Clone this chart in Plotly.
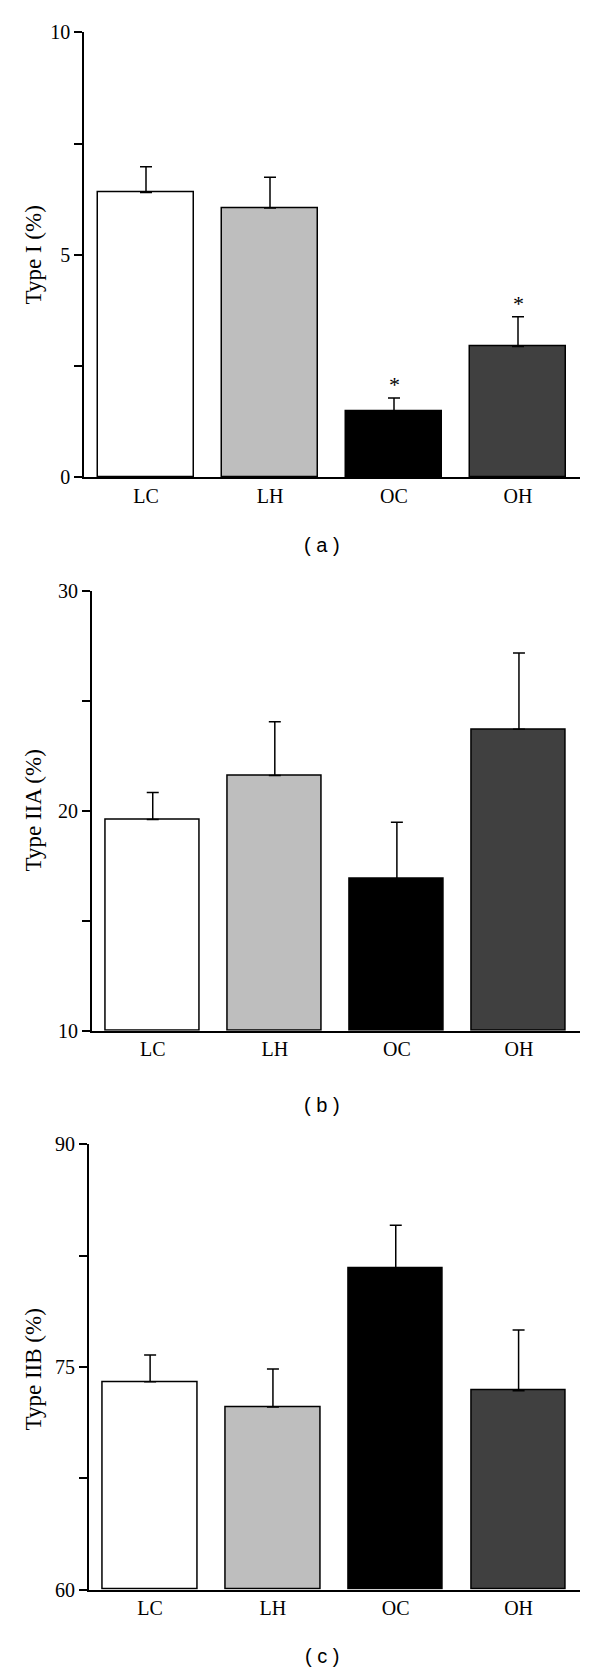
import plotly.graph_objects as go

categories = ["LC", "LH", "OC", "OH"]
bar_colors = ["#ffffff", "#bebebe", "#000000", "#404040"]

type1_mean = [6.40, 6.05, 1.48, 2.94]
type1_err = [0.58, 0.69, 0.30, 0.67]
type1_sig = ["", "", "*", "*"]

type2a_mean = [19.6, 21.6, 16.9, 23.7]
type2a_err = [1.23, 2.44, 2.58, 3.47]

type2b_mean = [74.0, 72.3, 81.65, 73.4]
type2b_err = [1.8, 2.56, 2.9, 4.1]

panels = [
    dict(mean=type1_mean, err=type1_err, sig=type1_sig, title="Type I (%)",
         rng=[0, 10], tickvals=[0, 2.5, 5, 7.5, 10], ticktext=["0", "", "5", "", "10"],
         caption="( a )", px=(84, 580), py=(32.3, 477.3), cap_y=544.5, title_y=255),
    dict(mean=type2a_mean, err=type2a_err, sig=None, title="Type IIA (%)",
         rng=[10, 30], tickvals=[10, 15, 20, 25, 30], ticktext=["10", "", "20", "", "30"],
         caption="( b )", px=(91.7, 580), py=(590.7, 1030.7), cap_y=1104.5, title_y=811),
    dict(mean=type2b_mean, err=type2b_err, sig=None, title="Type IIB (%)",
         rng=[60, 90], tickvals=[60, 67.5, 75, 82.5, 90], ticktext=["60", "", "75", "", "90"],
         caption="( c )", px=(88.7, 580), py=(1144.3, 1589.7), cap_y=1656, title_y=1370),
]

# page body has an 8px margin; the figure is sized so it ends at the window's edges
OFF = 8
W, H = 600 - OFF, 1672 - OFF


def fx(x):
    return (x - OFF) / W


def fy(y):
    return 1 - (y - OFF) / H


fig = go.Figure()
serif = "Liberation Serif, Times New Roman, serif"
annotations = []

for i, p in enumerate(panels):
    n = "" if i == 0 else str(i + 1)
    xa, ya = "x" + n, "y" + n
    fig.add_trace(go.Bar(
        x=list(range(len(categories))), y=[v - p["rng"][0] for v in p["mean"]],
        base=p["rng"][0],
        width=0.77,
        marker=dict(color=bar_colors, line=dict(color="black", width=1.5)),
        error_y=dict(type="data", symmetric=False, array=p["err"],
                     arrayminus=[0] * 4, color="black", thickness=1.5, width=6),
        xaxis=xa, yaxis=ya, showlegend=False,
    ))
    xd = [fx(p["px"][0]), fx(p["px"][1])]
    yd = [fy(p["py"][1]), fy(p["py"][0])]
    fig.layout["xaxis" + n] = dict(
        domain=xd, range=[-0.5, 3.5], anchor=ya,
        tickvals=list(range(len(categories))), ticktext=categories,
        showline=True, linecolor="black", linewidth=1.5, ticks="",
        showgrid=False, zeroline=False, automargin=False,
        tickfont=dict(family=serif, size=20, color="black"),
        ticklabelstandoff=0, fixedrange=True,
    )
    fig.layout["yaxis" + n] = dict(
        domain=yd, range=p["rng"], anchor=xa,
        tickvals=p["tickvals"], ticktext=p["ticktext"],
        showline=True, linecolor="black", linewidth=1.5,
        ticks="outside", ticklen=8, tickwidth=1.5, tickcolor="black",
        showgrid=False, zeroline=False, automargin=False,
        tickfont=dict(family=serif, size=20, color="black"),
    )
    annotations.append(dict(
        text=p["title"], x=fx(32.5), y=fy(p["title_y"]), xref="paper", yref="paper",
        textangle=-90, showarrow=False, xanchor="center", yanchor="middle",
        font=dict(family=serif, size=23, color="black"),
    ))
    annotations.append(dict(
        text=p["caption"], x=fx(322), y=fy(p["cap_y"]), xref="paper", yref="paper",
        showarrow=False, xanchor="center", yanchor="middle",
        font=dict(family="Liberation Sans, Arial, sans-serif", size=20, color="black"),
    ))
    if p["sig"]:
        for j, s in enumerate(p["sig"]):
            if s:
                annotations.append(dict(
                    text=s, x=j, y=p["mean"][j] + p["err"][j], xref=xa, yref=ya,
                    showarrow=False, xanchor="center", yanchor="bottom", yshift=-1,
                    font=dict(family=serif, size=22, color="black"),
                ))

fig.update_layout(
    width=W, height=H, margin=dict(l=0, r=0, t=0, b=0, autoexpand=False),
    paper_bgcolor="white", plot_bgcolor="white",
    annotations=annotations, bargap=0,
)
fig.write_html("out.html")
